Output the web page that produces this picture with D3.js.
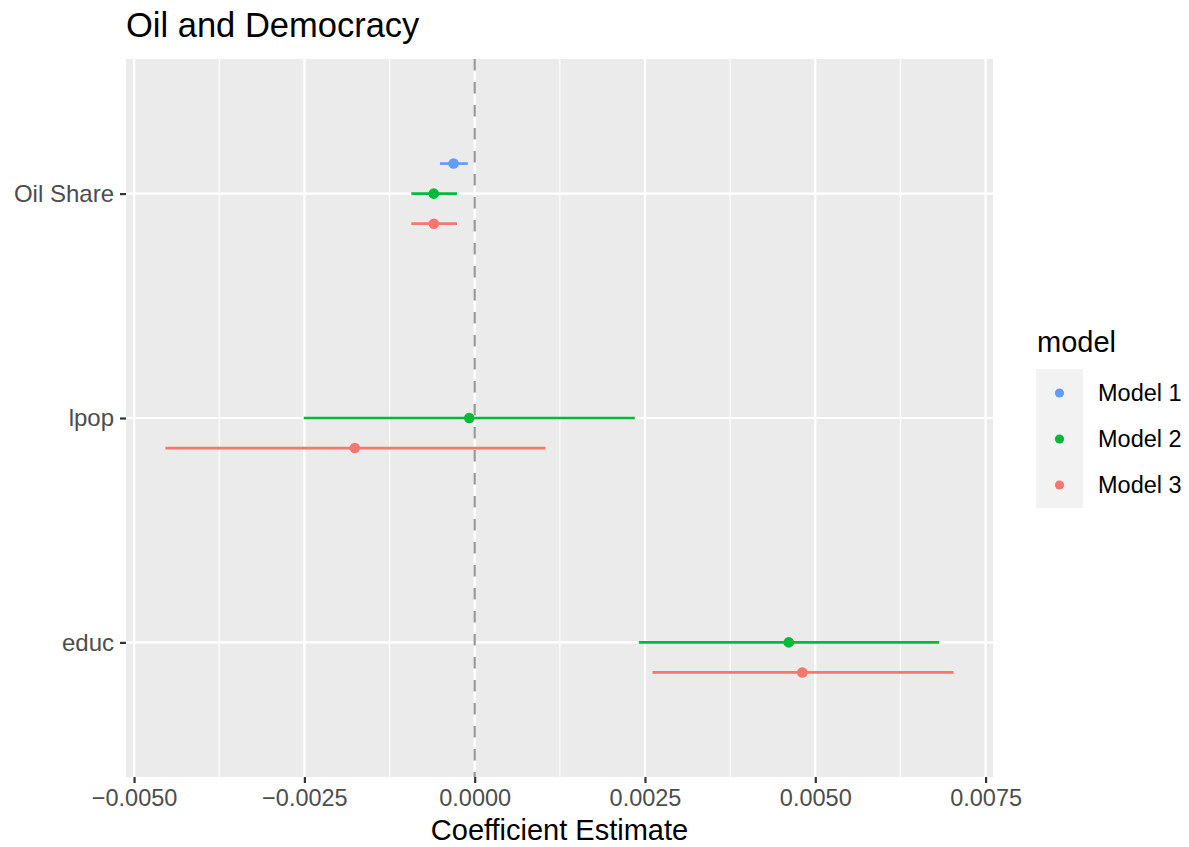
<!DOCTYPE html>
<html>
<head>
<meta charset="utf-8">
<script src="https://cdn.jsdelivr.net/npm/d3@7"></script>
<style>
  html, body { margin: 0; padding: 0; background: #fff; }
  svg { display: block; font-family: "Liberation Sans", Arial, Helvetica, sans-serif; }
</style>
</head>
<body>
<svg id="chart" width="1189" height="847"></svg>
<script>
// Coefficient estimates with confidence intervals, by term and model
const terms = ["Oil Share", "lpop", "educ"];
const models = ["Model 1", "Model 2", "Model 3"];
const modelColors = ["#619CFF", "#00BA38", "#F8766D"];

const rowTerm  = ["Oil Share", "Oil Share", "Oil Share", "lpop",    "lpop",    "educ",   "educ"];
const rowModel = ["Model 1",   "Model 2",   "Model 3",   "Model 2", "Model 3", "Model 2", "Model 3"];
const estimate = [-0.00031,    -0.00060,    -0.00060,    -0.00008,  -0.00176,  0.00461,  0.00481];
const ciLow    = [-0.00051,    -0.00093,    -0.00093,    -0.00251,  -0.00454,  0.00241,  0.00261];
const ciHigh   = [-0.00010,    -0.00026,    -0.00026,     0.00235,   0.00104,  0.00682,  0.00703];

const xTicks = [-0.005, -0.0025, 0, 0.0025, 0.005, 0.0075];
const xMinor = [-0.00375, -0.00125, 0.00125, 0.00375, 0.00625];

const rows = rowTerm.map((t, i) => ({
  term: t, model: rowModel[i], est: estimate[i], lo: ciLow[i], hi: ciHigh[i]
}));

const svg = d3.select("#chart");
const panel = { left: 126, right: 993, top: 59, bottom: 777 };

// x: continuous, expanded 5% beyond the data range
const lo = d3.min(ciLow), hi = d3.max(ciHigh);
const pad = (hi - lo) * 0.05;
const x = d3.scaleLinear().domain([lo - pad, hi + pad]).range([panel.left, panel.right]);

// y: discrete terms with 0.6 unit padding on each side
const y = d3.scalePoint().domain(terms)
  .range([panel.top, panel.bottom]).padding(0.6);
const step = y.step();
// vertical dodge of each model within a term
const dodge = d3.scalePoint().domain(models).range([-step * 0.134, step * 0.134]);

const color = d3.scaleOrdinal().domain(models).range(modelColors);

// panel background and grid
svg.append("rect")
  .attr("x", panel.left).attr("y", panel.top)
  .attr("width", panel.right - panel.left).attr("height", panel.bottom - panel.top)
  .attr("fill", "#EBEBEB");

const grid = svg.append("g");
grid.selectAll(".minor").data(xMinor).join("line")
  .attr("x1", d => x(d)).attr("x2", d => x(d))
  .attr("y1", panel.top).attr("y2", panel.bottom)
  .attr("stroke", "#fff").attr("stroke-width", 1.1);
grid.selectAll(".majx").data(xTicks).join("line")
  .attr("x1", d => x(d)).attr("x2", d => x(d))
  .attr("y1", panel.top).attr("y2", panel.bottom)
  .attr("stroke", "#fff").attr("stroke-width", 2.2);
grid.selectAll(".majy").data(terms).join("line")
  .attr("x1", panel.left).attr("x2", panel.right)
  .attr("y1", d => y(d)).attr("y2", d => y(d))
  .attr("stroke", "#fff").attr("stroke-width", 2.2);

// confidence intervals
const marks = svg.append("g");
marks.selectAll("line.ci").data(rows).join("line")
  .attr("class", "ci")
  .attr("x1", d => x(d.lo)).attr("x2", d => x(d.hi))
  .attr("y1", d => y(d.term) + dodge(d.model)).attr("y2", d => y(d.term) + dodge(d.model))
  .attr("stroke", d => color(d.model)).attr("stroke-width", 2.7);

// reference line at zero
svg.append("line")
  .attr("x1", x(0)).attr("x2", x(0))
  .attr("y1", panel.top).attr("y2", panel.bottom)
  .attr("stroke", "#999999").attr("stroke-width", 2.2)
  .attr("stroke-dasharray", "11.5,11.5");

// point estimates
marks.selectAll("circle.pt").data(rows).join("circle")
  .attr("class", "pt")
  .attr("cx", d => x(d.est))
  .attr("cy", d => y(d.term) + dodge(d.model))
  .attr("r", 5.3)
  .attr("fill", d => color(d.model));

// x axis
const xAxis = svg.append("g").attr("transform", `translate(0,${panel.bottom})`)
  .call(d3.axisBottom(x).tickValues(xTicks).tickSize(6).tickPadding(6)
    .tickFormat(d => d3.format(".4f")(d).replace("-", "\u2212")));
xAxis.select(".domain").remove();
xAxis.selectAll(".tick line").attr("stroke", "#333333").attr("stroke-width", 2.2);
xAxis.selectAll(".tick text").attr("fill", "#4D4D4D")
  .style("font-size", "23.5px").attr("dy", "0.71em");

// y axis
const yAxis = svg.append("g").attr("transform", `translate(${panel.left},0)`)
  .call(d3.axisLeft(y).tickSize(6).tickPadding(6));
yAxis.select(".domain").remove();
yAxis.selectAll(".tick line").attr("stroke", "#333333").attr("stroke-width", 2.2);
yAxis.selectAll(".tick text").attr("fill", "#4D4D4D").style("font-size", "24px");

// axis title
svg.append("text")
  .attr("x", (panel.left + panel.right) / 2).attr("y", 840)
  .attr("text-anchor", "middle").attr("fill", "#000")
  .style("font-size", "29px").text("Coefficient Estimate");

// plot title
svg.append("text")
  .attr("x", panel.left).attr("y", 37)
  .attr("fill", "#000").style("font-size", "34.5px").text("Oil and Democracy");

// legend
const legend = svg.append("g");
legend.append("text").attr("x", 1037).attr("y", 352)
  .attr("fill", "#000").style("font-size", "29px").text("model");
legend.append("rect").attr("x", 1036).attr("y", 369)
  .attr("width", 47).attr("height", 139).attr("fill", "#F2F2F2");
const keyY = d3.scalePoint().domain(models).range([393, 485]);
legend.selectAll("circle").data(models).join("circle")
  .attr("cx", 1059.5).attr("cy", d => keyY(d)).attr("r", 4.6)
  .attr("fill", d => color(d));
legend.selectAll("text.lab").data(models).join("text")
  .attr("class", "lab")
  .attr("x", 1098).attr("y", d => keyY(d)).attr("dy", "0.35em")
  .attr("fill", "#000").style("font-size", "23.5px").text(d => d);
</script>
</body>
</html>
